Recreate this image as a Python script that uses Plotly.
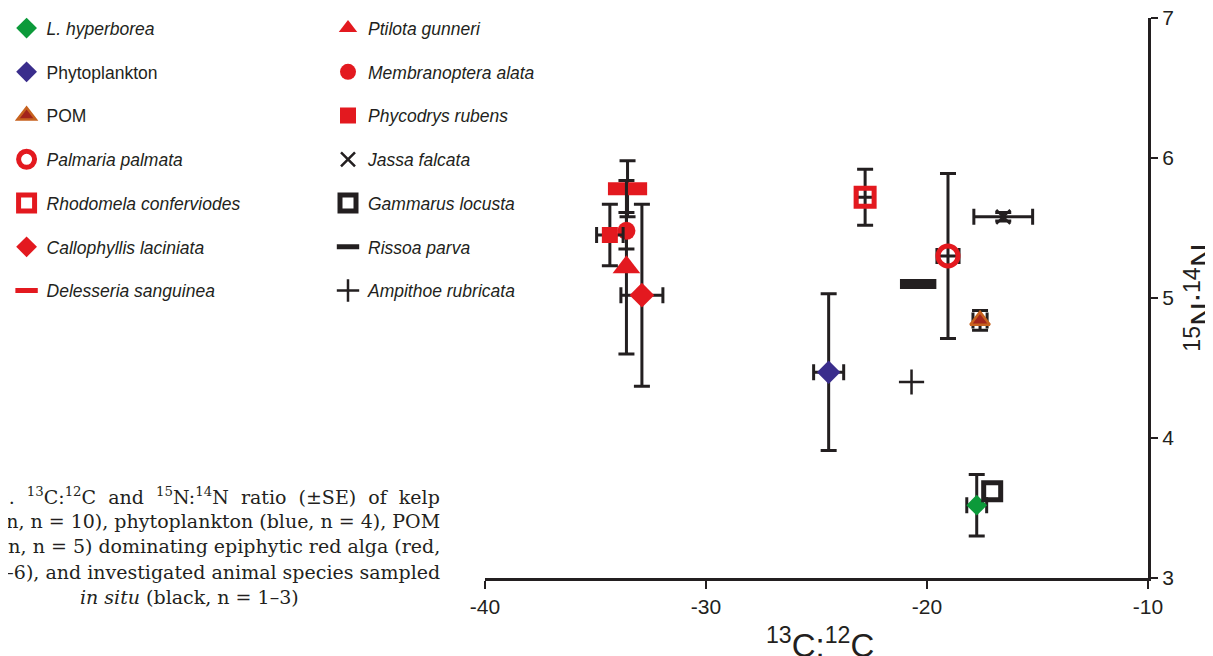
import plotly.graph_objects as go

# ---------------- data ----------------
names = ["L. hyperborea", "Phytoplankton", "POM", "Palmaria palmata",
         "Rhodomela conferviodes", "Callophyllis laciniata", "Delesseria sanguinea",
         "Ptilota gunneri", "Membranoptera alata", "Phycodrys rubens",
         "Jassa falcata", "Gammarus locusta", "Rissoa parva", "Ampithoe rubricata"]
italic = [True, False, False, True, True, True, True,
          True, True, True, True, True, True, True]
c13 = [-17.75, -24.45, -17.6, -19.05, -22.8, -32.9, -33.55,
       -33.6, -33.6, -34.35, -16.55, -17.05, -20.4, -20.7]
n15 = [3.52, 4.47, 4.84, 5.30, 5.72, 5.02, 5.78,
       5.22, 5.48, 5.45, 5.58, 3.62, 5.10, 4.40]
c13_se = [0.45, 0.68, 0.32, 0.50, 0.38, 0.95, 0.0,
          0.0, 0.0, 0.6, 1.33, 0.0, 0.0, 0.0]
n15_se = [0.22, 0.56, 0.07, 0.59, 0.20, 0.65, 0.20,
          0.62, 0.13, 0.22, 0.03, 0.0, 0.0, 0.0]
legend_col = [1, 1, 1, 1, 1, 1, 1, 2, 2, 2, 2, 2, 2, 2]

x_ticks = [-40, -30, -20, -10]
y_ticks = [3, 4, 5, 6, 7]
x_title = "<sup>13</sup>C:<sup>12</sup>C"
y_title = "<sup>15</sup>N:<sup>14</sup>N"

# ---------------- styles ----------------
RED = "#e3191f"
BLK = "#231f20"
styles = [
    dict(symbol="diamond", size=16, color="#0c9a3a", line=dict(width=0)),
    dict(symbol="diamond", size=18, color="#3a2d8c", line=dict(width=0)),
    dict(symbol="triangle-up", size=17, color="#a3241c", line=dict(width=2.5, color="#c7621f")),
    dict(symbol="circle-open", size=20, color=RED, line=dict(width=5, color=RED)),
    dict(symbol="square-open", size=18, color=RED, line=dict(width=5, color=RED)),
    dict(symbol="diamond", size=19, color=RED, line=dict(width=0)),
    dict(symbol="line-ew", size=28, color=RED, line=dict(width=13, color=RED)),
    dict(symbol="triangle-up", size=24, color=RED, line=dict(width=0)),
    dict(symbol="circle", size=18, color=RED, line=dict(width=0)),
    dict(symbol="square", size=16, color=RED, line=dict(width=0)),
    dict(symbol="x-thin-open", size=14, color=BLK, line=dict(width=2.5, color=BLK)),
    dict(symbol="square-open", size=17, color=BLK, line=dict(width=5, color=BLK)),
    dict(symbol="line-ew", size=26, color=BLK, line=dict(width=10, color=BLK)),
    dict(symbol="cross-thin-open", size=18, color=BLK, line=dict(width=2.5, color=BLK)),
]

fig = go.Figure()
for i, nm in enumerate(names):
    label = f"<i>{nm}</i>" if italic[i] else nm
    fig.add_trace(go.Scatter(
        x=[c13[i]], y=[n15[i]], mode="markers", name=label,
        marker=styles[i],
        error_x=dict(type="data", array=[c13_se[i]], visible=c13_se[i] > 0,
                     color=BLK, thickness=3, width=8),
        error_y=dict(type="data", array=[n15_se[i]], visible=n15_se[i] > 0,
                     color=BLK, thickness=3, width=8),
        legend="legend" if legend_col[i] == 1 else "legend2",
        legendgroup=nm,
    ))

leg_common = dict(font=dict(family="Liberation Sans, Arial", size=17.5, color="#231f20"),
                  tracegroupgap=18, itemsizing="trace", bgcolor="rgba(0,0,0,0)",
                  xanchor="left", yanchor="top", y=1.014)

# page body adds an 8px offset, so the figure is 8px smaller than the window
fig.update_layout(
    width=1205, height=648,
    margin=dict(l=477, r=65, t=10, b=78, autoexpand=False),
    paper_bgcolor="white", plot_bgcolor="white",
    showlegend=True,
    legend=dict(x=-0.7216, **leg_common),
    legend2=dict(x=-0.2368, **leg_common),
    xaxis=dict(range=[-40, -10], tickvals=x_ticks, ticktext=[str(v) for v in x_ticks],
               showgrid=False, zeroline=False, showline=True, linecolor=BLK, linewidth=3,
               ticks="outside", ticklen=8, tickwidth=1.5, tickcolor=BLK,
               ticklabeloverflow="allow",
               tickfont=dict(family="Liberation Sans, Arial", size=21, color=BLK)),
    yaxis=dict(range=[3, 7], tickvals=y_ticks, side="right",
               showgrid=False, zeroline=False, showline=True, linecolor=BLK, linewidth=3,
               ticks="outside", ticklen=7, tickwidth=1.5, tickcolor=BLK,
               ticklabeloverflow="allow",
               tickfont=dict(family="Liberation Sans, Arial", size=21, color=BLK)),
)

title_font = dict(family="Liberation Sans, Arial", size=33, color=BLK)
fig.add_annotation(text=x_title, xref="paper", yref="paper", x=0.506, y=-0.116,
                   xanchor="center", yanchor="middle", showarrow=False, font=title_font)
fig.add_annotation(text=y_title, xref="paper", yref="paper", x=1.078, y=0.5, textangle=-90,
                   xanchor="center", yanchor="middle", showarrow=False, font=title_font)

sp = "\u00a0\u00a0"
cap_lines = [
    sp.join(["Fig.", "6.", "<sup>13</sup>C:<sup>12</sup>C", "and",
             "<sup>15</sup>N:<sup>14</sup>N", "ratio", "(±SE)", "of", "kelp"]),
    "(green, n = 10), phytoplankton (blue, n = 4), POM",
    "(brown, n = 5) dominating epiphytic red alga (red,",
    "n = 1–6), and investigated animal species sampled",
]
cap_font = dict(family="DejaVu Serif", size=19, color="#231f20")
for k, t in enumerate(cap_lines):
    fig.add_annotation(text=t, xref="paper", yref="paper", x=-0.0649, y=0.1464 - k * 0.045,
                       xanchor="right", yanchor="middle", showarrow=False, font=cap_font)
fig.add_annotation(text="<i>in situ</i> (black, n = 1–3)", xref="paper", yref="paper",
                   x=-0.445, y=0.1464 - 4 * 0.045, xanchor="center", yanchor="middle",
                   showarrow=False, font=cap_font)

fig.write_html("out.html")
